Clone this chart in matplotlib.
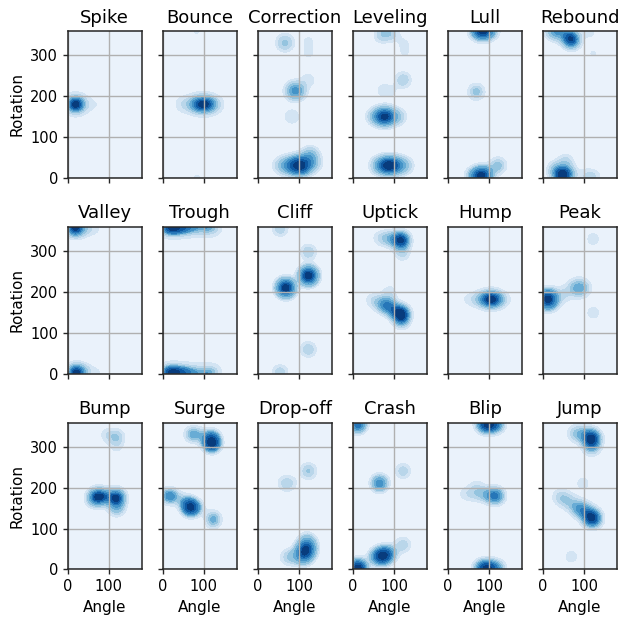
import numpy as np
import matplotlib
matplotlib.use("Agg")
import matplotlib.pyplot as plt

# points: (angle, rotation, weight)
spike = [(15, 180, 4), (25, 180, 3), (50, 180, 0.6), (80, 180, 0.4)]
bounce = [(80, 180, 3), (100, 180, 4), (115, 180, 2), (50, 180, 1), (130, 180, 0.8),
          (83, 360, 0.5), (83, 0, 0.5)]
correction = [(66, 331, 1.0), (123, 335, 0.3), (123, 305, 0.3), (95, 213, 1.5), (85, 213, 0.8),
              (123, 240, 0.4), (83, 150, 0.5), (95, 30, 3), (110, 30, 3), (75, 30, 1.5),
              (55, 30, 0.6), (127, 55, 1.2), (135, 35, 0.8)]
leveling = [(80, 358, 1.2), (65, 345, 0.4), (100, 350, 0.4), (126, 330, 0.35), (126, 305, 0.35),
            (122, 240, 1.0), (73, 215, 0.5), (95, 210, 0.3), (70, 150, 3), (85, 150, 3),
            (110, 150, 1), (50, 150, 0.8), (90, 30, 4), (75, 30, 2), (110, 30, 2), (60, 30, 1),
            (130, 30, 0.8)]
lull = [(85, 360, 3), (70, 360, 1), (105, 360, 1), (69, 211, 1), (80, 5, 3), (95, 8, 1),
        (122, 30, 1), (60, 5, 0.8)]
rebound = [(69, 338, 3), (60, 350, 1), (35, 358, 1.5), (20, 360, 0.8), (113, 358, 0.5),
           (122, 305, 0.4), (45, 5, 3), (60, 10, 1.5), (55, 40, 0.8), (30, 20, 1), (100, 5, 0.5),
           (122, 2, 0.7)]
valley = [(18, 357, 4), (45, 355, 0.8), (70, 355, 0.4), (20, 2, 4), (45, 5, 0.8), (75, 3, 0.4)]
trough = [(10, 358, 3), (30, 358, 4), (55, 358, 3), (80, 358, 2), (105, 358, 2), (125, 358, 1.5),
          (10, 2, 3), (30, 2, 4), (55, 2, 3), (80, 2, 2), (105, 2, 2), (125, 2, 1.5),
          (123, 240, 0.4), (123, 59, 0.4)]
cliff = [(54, 356, 0.5), (123, 298, 0.5), (68, 210, 3), (123, 240, 3), (123, 59, 0.5), (54, 2, 0.5)]
uptick = [(118, 327, 3), (95, 330, 1), (75, 332, 0.6), (60, 332, 0.3), (120, 295, 0.8),
          (118, 146, 3), (118, 128, 1), (102, 155, 1), (85, 165, 1.5), (70, 170, 0.8),
          (55, 178, 0.4), (42, 182, 0.3), (88, 190, 0.4), (90, 208, 0.3)]
hump = [(105, 182, 4), (90, 182, 2), (120, 182, 2), (70, 182, 1), (45, 182, 0.5), (140, 182, 0.6)]
peak = [(12, 182, 3), (50, 195, 0.3), (80, 210, 0.5), (95, 210, 0.5), (122, 330, 0.2),
        (122, 149, 0.2)]
bump = [(95, 330, 0.5), (119, 325, 0.9), (119, 300, 0.4), (71, 178, 2.5), (90, 178, 1.5),
        (119, 176, 3), (119, 150, 1.2), (60, 170, 0.5)]
surge = [(71, 331, 1), (90, 330, 0.5), (119, 309, 3), (119, 325, 1), (16, 180, 1.5),
         (40, 175, 0.3), (68, 152, 3), (55, 165, 0.5), (123, 125, 1), (123, 110, 0.3),
         (90, 150, 0.3)]
dropoff = [(66, 211, 0.5), (80, 211, 0.3), (123, 241, 0.8), (119, 51, 3), (111, 35, 2.5),
           (120, 70, 0.8), (85, 30, 0.5), (70, 30, 0.4)]
crash = [(12, 356, 1.5), (65, 211, 1.2), (122, 241, 0.5), (73, 33, 2), (55, 30, 0.6),
         (90, 40, 0.6), (122, 60, 0.5), (12, 2, 2.5)]
blip = [(100, 356, 3), (85, 356, 1.5), (120, 356, 1.5), (118, 180, 2), (100, 182, 1),
        (80, 185, 0.6), (60, 185, 0.5), (40, 185, 0.4), (69, 207, 0.4), (97, 2, 3), (80, 2, 1.5),
        (120, 2, 1.5)]
jump = [(118, 321, 3), (118, 300, 1), (80, 333, 0.8), (100, 333, 0.6), (41, 178, 0.5),
        (55, 172, 0.5), (70, 160, 0.5), (97, 211, 0.4), (89, 149, 1.2), (105, 140, 1),
        (120, 125, 3), (69, 31, 0.4)]

titles = ["Spike", "Bounce", "Correction", "Leveling", "Lull", "Rebound",
          "Valley", "Trough", "Cliff", "Uptick", "Hump", "Peak",
          "Bump", "Surge", "Drop-off", "Crash", "Blip", "Jump"]
panels = [spike, bounce, correction, leveling, lull, rebound,
          valley, trough, cliff, uptick, hump, peak,
          bump, surge, dropoff, crash, blip, jump]

BW = 14.0  # kernel width, same units on both axes
N_LEVELS = 10
band_colors = plt.get_cmap("Blues")(np.linspace(0.07, 0.95, N_LEVELS - 1))

gx = np.linspace(0, 180, 200)
gy = np.linspace(0, 360, 400)
XX, YY = np.meshgrid(gx, gy)


def density(pts):
    d = np.zeros_like(XX)
    for a, r, w in pts:
        d += w * np.exp(-0.5 * (((XX - a) / BW) ** 2 + ((YY - r) / BW) ** 2))
    return d


def iso_levels(d, n):
    # same idea as seaborn: levels hold equal shares of probability mass
    vals = np.sort(d.ravel())[::-1]
    cum = np.cumsum(vals) / vals.sum()
    idx = np.searchsorted(cum, 1 - np.linspace(0, 1, n))
    lev = np.take(vals, idx, mode="clip")
    lev[0] = -1.0
    return lev


plt.rcParams['font.family'] = ['DejaVu Sans']
fig, axes = plt.subplots(3, 6, figsize=(6.19, 6.17), dpi=100, sharex=True, sharey=True)
fig.subplots_adjust(left=0.1094, right=0.9968, top=0.9498, bottom=0.0773,
                    wspace=0.284, hspace=0.334)

for ax, title, pts in zip(axes.flat, titles, panels):
    d = density(pts)
    ax.contourf(XX, YY, d, levels=iso_levels(d, N_LEVELS), colors=band_colors)
    ax.set_title(title, fontsize=13)
    ax.set_xlim(0, 180)
    ax.set_ylim(0, 360)
    ax.grid(True, color='#b0b0b0', linewidth=1)
    for s in ax.spines.values():
        s.set_color('#262626')
        s.set_linewidth(1.1)
    ax.tick_params(colors='#262626', labelcolor='black', labelsize=10.5, length=3.5, width=1)

axes[0, 0].set_xticks([0, 100])
axes[0, 0].set_yticks([0, 100, 200, 300])
for ax in axes[:, 0]:
    ax.set_ylabel("Rotation", fontsize=11)
for ax in axes[-1, :]:
    ax.set_xlabel("Angle", fontsize=11)

fig.savefig("out.png", dpi=100)
